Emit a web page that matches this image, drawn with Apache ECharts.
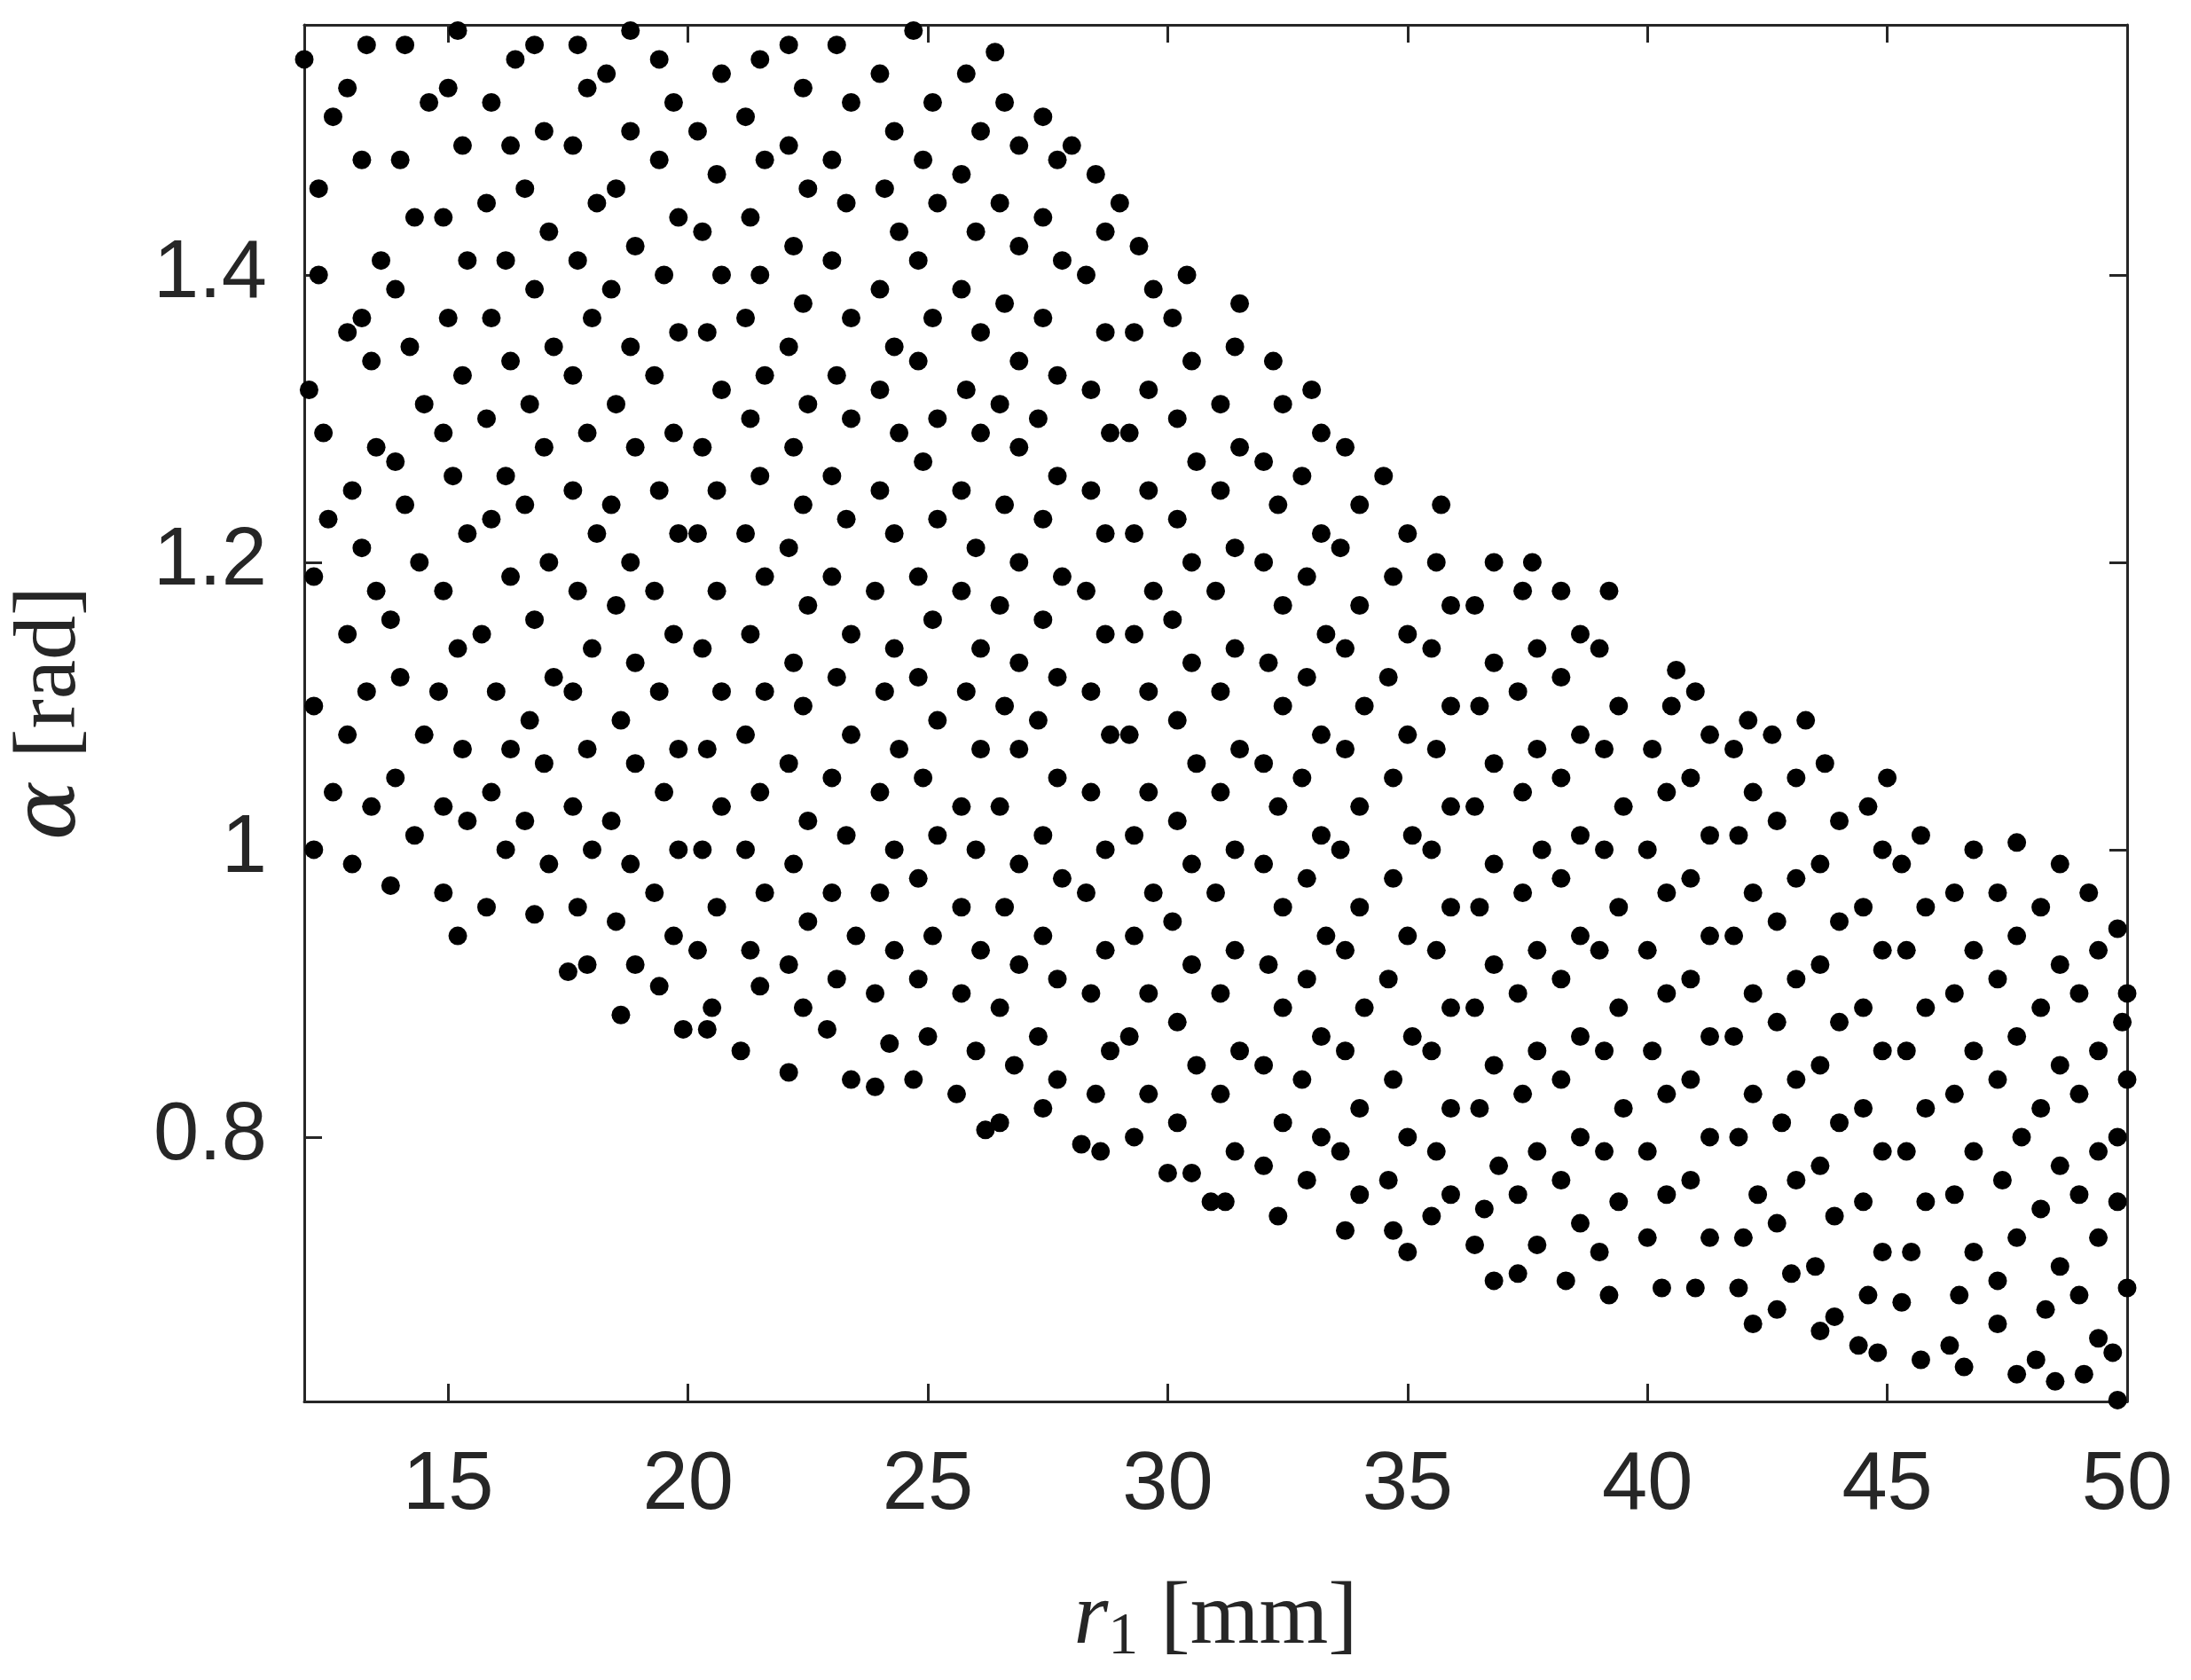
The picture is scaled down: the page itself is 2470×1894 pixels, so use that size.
<!DOCTYPE html>
<html><head><meta charset="utf-8">
<script src="https://cdn.jsdelivr.net/npm/echarts@6/dist/echarts.min.js"></script>
<style>html,body{margin:0;background:#fff}#c{width:2470px;height:1894px}</style>
</head><body><div id="c"></div>
<script>
const xTicks=[15,20,25,30,35,40,45,50];
const yTicks=[0.8,1.0,1.2,1.4];
const samples=[
[12.2,1.00],[12.6,1.04],[12.2,1.10],[12.9,1.15],[12.2,1.19],[12.5,1.23],[12.4,1.29],[12.1,1.32],[12.9,1.36],[12.3,1.40],[12.3,1.46],[12.6,1.51],[12.0,1.55],
[13.0,0.99],[13.4,1.03],[12.9,1.08],[13.3,1.11],[13.5,1.18],[13.2,1.21],[13.0,1.25],[13.5,1.28],[13.4,1.34],[13.2,1.37],[13.6,1.41],[13.2,1.48],[12.9,1.53],[13.3,1.56],
[13.8,0.975],[14.3,1.01],[13.9,1.05],[14.5,1.08],[14.0,1.12],[13.8,1.16],[14.4,1.20],[14.1,1.24],[13.9,1.27],[14.5,1.31],[14.2,1.35],[13.9,1.39],[14.3,1.44],[14.0,1.48],[14.6,1.52],[14.1,1.56],
[14.9,0.97],[15.2,0.94],[15.4,1.02],[14.9,1.03],[15.3,1.07],[14.8,1.11],[15.2,1.14],[14.9,1.18],[15.4,1.22],[15.1,1.26],[14.9,1.29],[15.3,1.33],[15.0,1.37],[15.4,1.41],[14.9,1.44],[15.3,1.49],[15.0,1.53],[15.2,1.57],
[15.8,0.96],[16.2,1.00],[15.9,1.04],[16.3,1.07],[16.0,1.11],[15.7,1.15],[16.3,1.19],[15.9,1.23],[16.2,1.26],[15.8,1.30],[16.3,1.34],[15.9,1.37],[16.2,1.41],[15.8,1.45],[16.3,1.49],[15.9,1.52],[16.4,1.55],
[16.8,0.955],[17.1,0.99],[16.6,1.02],[17.0,1.06],[16.7,1.09],[17.2,1.12],[16.8,1.16],[17.1,1.20],[16.6,1.24],[17.0,1.28],[16.7,1.31],[17.2,1.35],[16.8,1.39],[17.1,1.43],[16.6,1.46],[17.0,1.50],[16.8,1.56],
[17.5,0.915],[17.9,0.92],[17.7,0.96],[18.0,1.00],[17.6,1.03],[17.9,1.07],[17.6,1.11],[18.0,1.14],[17.7,1.18],[18.1,1.22],[17.6,1.25],[17.9,1.29],[17.6,1.33],[18.0,1.37],[17.7,1.41],[18.1,1.45],[17.6,1.49],[17.9,1.53],[17.7,1.56],
[18.6,0.885],[18.9,0.92],[18.5,0.95],[18.8,0.99],[18.4,1.02],[18.9,1.06],[18.6,1.09],[18.9,1.13],[18.5,1.17],[18.8,1.20],[18.4,1.24],[18.9,1.28],[18.5,1.31],[18.8,1.35],[18.4,1.39],[18.9,1.42],[18.5,1.46],[18.8,1.50],[18.3,1.54],[18.8,1.57],
[19.4,0.905],[19.9,0.875],[19.7,0.94],[19.3,0.97],[19.8,1.00],[19.5,1.04],[19.8,1.07],[19.4,1.11],[19.7,1.15],[19.3,1.18],[19.8,1.22],[19.4,1.25],[19.7,1.29],[19.3,1.33],[19.8,1.36],[19.5,1.40],[19.8,1.44],[19.4,1.48],[19.7,1.52],[19.4,1.55],
[20.4,0.875],[20.5,0.89],[20.2,0.93],[20.6,0.96],[20.3,1.00],[20.7,1.03],[20.4,1.07],[20.7,1.11],[20.3,1.14],[20.6,1.18],[20.2,1.22],[20.6,1.25],[20.3,1.28],[20.7,1.32],[20.4,1.36],[20.7,1.40],[20.3,1.43],[20.6,1.47],[20.2,1.50],[20.7,1.54],
[21.1,0.86],[21.5,0.905],[21.3,0.93],[21.6,0.97],[21.2,1.00],[21.5,1.04],[21.2,1.08],[21.6,1.11],[21.3,1.15],[21.6,1.19],[21.2,1.22],[21.5,1.26],[21.3,1.30],[21.6,1.33],[21.2,1.37],[21.5,1.40],[21.3,1.44],[21.6,1.48],[21.2,1.51],[21.5,1.55],
[22.1,0.845],[22.4,0.89],[22.1,0.92],[22.5,0.95],[22.2,0.99],[22.5,1.02],[22.1,1.06],[22.4,1.10],[22.2,1.13],[22.5,1.17],[22.1,1.21],[22.4,1.24],[22.2,1.28],[22.5,1.31],[22.1,1.35],[22.4,1.38],[22.2,1.42],[22.5,1.46],[22.1,1.49],[22.4,1.53],[22.1,1.56],
[22.9,0.875],[23.4,0.84],[23.1,0.91],[23.5,0.94],[23.0,0.97],[23.3,1.01],[23.0,1.05],[23.4,1.08],[23.1,1.12],[23.4,1.15],[23.0,1.19],[23.3,1.23],[23.0,1.26],[23.4,1.30],[23.1,1.33],[23.4,1.37],[23.0,1.41],[23.3,1.45],[23.0,1.48],[23.4,1.52],[23.1,1.56],
[23.9,0.835],[24.2,0.865],[23.9,0.90],[24.3,0.93],[24.0,0.97],[24.3,1.00],[24.0,1.04],[24.4,1.07],[24.1,1.11],[24.3,1.14],[23.9,1.18],[24.3,1.22],[24.0,1.25],[24.4,1.29],[24.0,1.32],[24.3,1.35],[24.0,1.39],[24.4,1.43],[24.1,1.46],[24.3,1.50],[24.0,1.54],
[24.7,0.84],[25.0,0.87],[24.8,0.91],[25.1,0.94],[24.8,0.98],[25.2,1.01],[24.9,1.05],[25.2,1.09],[24.8,1.12],[25.1,1.16],[24.8,1.19],[25.2,1.23],[24.9,1.27],[25.2,1.30],[24.8,1.34],[25.1,1.37],[24.8,1.41],[25.2,1.45],[24.9,1.48],[25.1,1.52],[24.7,1.57],
[25.6,0.83],[26.0,0.86],[25.7,0.90],[26.1,0.93],[25.7,0.96],[26.0,1.00],[25.7,1.03],[26.1,1.07],[25.8,1.11],[26.1,1.14],[25.7,1.18],[26.0,1.21],[25.7,1.25],[26.1,1.29],[25.8,1.32],[26.1,1.36],[25.7,1.39],[26.0,1.43],[25.7,1.47],[26.1,1.50],[25.8,1.54],
[26.2,0.805],[26.5,0.81],[26.8,0.85],[26.5,0.89],[26.9,0.92],[26.6,0.96],[26.9,0.99],[26.5,1.03],[26.9,1.07],[26.6,1.10],[26.9,1.13],[26.5,1.17],[26.9,1.20],[26.6,1.24],[26.9,1.28],[26.5,1.31],[26.9,1.34],[26.6,1.38],[26.9,1.42],[26.5,1.45],[26.9,1.49],[26.4,1.555],[26.6,1.52],
[27.4,0.82],[27.7,0.84],[27.3,0.87],[27.7,0.91],[27.4,0.94],[27.8,0.98],[27.4,1.01],[27.7,1.05],[27.3,1.09],[27.7,1.12],[27.4,1.16],[27.8,1.19],[27.4,1.23],[27.7,1.26],[27.3,1.30],[27.7,1.33],[27.4,1.37],[27.8,1.41],[27.4,1.44],[27.7,1.48],[27.4,1.51],
[28.2,0.795],[28.6,0.79],[28.5,0.83],[28.8,0.86],[28.4,0.90],[28.7,0.93],[28.3,0.97],[28.7,1.00],[28.4,1.04],[28.8,1.08],[28.4,1.11],[28.7,1.15],[28.3,1.18],[28.7,1.22],[28.4,1.25],[28.8,1.29],[28.4,1.32],[28.7,1.36],[28.3,1.40],[28.7,1.43],[28.5,1.47],[28.0,1.49],
[29.3,0.80],[29.6,0.83],[29.2,0.87],[29.6,0.90],[29.3,0.94],[29.7,0.97],[29.3,1.01],[29.6,1.04],[29.2,1.08],[29.6,1.11],[29.3,1.15],[29.7,1.18],[29.3,1.22],[29.6,1.25],[29.2,1.29],[29.6,1.32],[29.3,1.36],[29.7,1.39],[29.4,1.42],[29.0,1.45],
[30.0,0.775],[30.5,0.775],[30.2,0.81],[30.6,0.85],[30.2,0.88],[30.5,0.92],[30.1,0.95],[30.5,0.99],[30.2,1.02],[30.6,1.06],[30.2,1.09],[30.5,1.13],[30.1,1.16],[30.5,1.20],[30.2,1.23],[30.6,1.27],[30.2,1.30],[30.5,1.34],[30.1,1.37],[30.4,1.40],
[30.9,0.755],[31.2,0.755],[31.4,0.79],[31.1,0.83],[31.5,0.86],[31.1,0.90],[31.4,0.93],[31.0,0.97],[31.4,1.00],[31.1,1.04],[31.5,1.07],[31.1,1.11],[31.4,1.14],[31.0,1.18],[31.4,1.21],[31.1,1.25],[31.5,1.28],[31.1,1.31],[31.4,1.35],[31.5,1.38],
[32.3,0.745],[32.0,0.78],[32.4,0.81],[32.0,0.85],[32.4,0.89],[32.1,0.92],[32.4,0.96],[32.0,0.99],[32.3,1.03],[32.0,1.06],[32.4,1.10],[32.1,1.13],[32.4,1.17],[32.0,1.20],[32.3,1.24],[32.0,1.27],[32.4,1.31],[32.2,1.34],
[32.9,0.77],[33.2,0.80],[32.8,0.84],[33.2,0.87],[32.9,0.91],[33.3,0.94],[32.9,0.98],[33.2,1.01],[32.8,1.05],[33.2,1.08],[32.9,1.12],[33.3,1.15],[32.9,1.19],[33.2,1.22],[32.8,1.26],[33.2,1.29],[33.0,1.32],
[33.7,0.735],[34.0,0.76],[33.6,0.79],[34.0,0.82],[33.7,0.86],[34.1,0.89],[33.7,0.93],[34.0,0.96],[33.6,1.00],[34.0,1.03],[33.7,1.07],[34.1,1.10],[33.7,1.14],[34.0,1.17],[33.6,1.21],[34.0,1.24],[33.7,1.28],
[34.7,0.735],[35.0,0.72],[34.6,0.77],[35.0,0.80],[34.7,0.84],[35.1,0.87],[34.6,0.91],[35.0,0.94],[34.7,0.98],[35.1,1.01],[34.7,1.05],[35.0,1.08],[34.6,1.12],[35.0,1.15],[34.7,1.19],[35.0,1.22],[34.5,1.26],
[35.5,0.745],[35.9,0.76],[35.6,0.79],[35.9,0.82],[35.5,0.86],[35.9,0.89],[35.6,0.93],[35.9,0.96],[35.5,1.00],[35.9,1.03],[35.6,1.07],[35.9,1.10],[35.5,1.14],[35.9,1.17],[35.6,1.20],[35.7,1.24],
[36.4,0.725],[36.8,0.70],[36.6,0.75],[36.9,0.78],[36.5,0.82],[36.8,0.85],[36.4,0.89],[36.8,0.92],[36.5,0.96],[36.8,0.99],[36.4,1.03],[36.8,1.06],[36.5,1.10],[36.8,1.13],[36.4,1.17],[36.8,1.20],
[37.3,0.705],[37.7,0.725],[37.3,0.76],[37.7,0.79],[37.4,0.83],[37.7,0.86],[37.3,0.90],[37.7,0.93],[37.4,0.97],[37.8,1.00],[37.4,1.04],[37.7,1.07],[37.3,1.11],[37.7,1.14],[37.4,1.18],[37.6,1.20],
[38.3,0.70],[38.6,0.74],[38.2,0.77],[38.6,0.80],[38.2,0.84],[38.6,0.87],[38.2,0.91],[38.6,0.94],[38.2,0.98],[38.6,1.01],[38.2,1.05],[38.6,1.08],[38.2,1.12],[38.6,1.15],[38.2,1.18],
[39.2,0.69],[39.0,0.72],[39.4,0.755],[39.1,0.79],[39.5,0.82],[39.1,0.86],[39.4,0.89],[39.0,0.93],[39.4,0.96],[39.1,1.00],[39.5,1.03],[39.1,1.07],[39.4,1.10],[39.0,1.14],[39.2,1.18],
[40.3,0.695],[40.0,0.73],[40.4,0.76],[40.0,0.79],[40.4,0.83],[40.1,0.86],[40.4,0.90],[40.0,0.93],[40.4,0.97],[40.0,1.00],[40.4,1.04],[40.1,1.07],[40.5,1.10],[40.6,1.125],
[41.0,0.695],[41.3,0.73],[40.9,0.77],[41.3,0.80],[40.9,0.84],[41.3,0.87],[40.9,0.91],[41.3,0.94],[40.9,0.98],[41.3,1.01],[40.9,1.05],[41.3,1.08],[41.0,1.11],
[41.9,0.695],[42.2,0.67],[42.0,0.73],[42.3,0.76],[41.9,0.80],[42.2,0.83],[41.8,0.87],[42.2,0.90],[41.8,0.94],[42.2,0.97],[41.9,1.01],[42.2,1.04],[41.8,1.07],[42.1,1.09],
[42.7,0.68],[43.0,0.705],[42.7,0.74],[43.1,0.77],[42.8,0.81],[43.1,0.84],[42.7,0.88],[43.1,0.91],[42.7,0.95],[43.1,0.98],[42.7,1.02],[43.1,1.05],[42.6,1.08],[43.3,1.09],
[43.6,0.665],[43.9,0.675],[43.5,0.71],[43.9,0.745],[43.6,0.78],[44.0,0.81],[43.6,0.85],[44.0,0.88],[43.6,0.92],[44.0,0.95],[43.6,0.99],[44.0,1.02],[43.7,1.06],
[44.4,0.655],[44.8,0.65],[44.6,0.69],[44.9,0.72],[44.5,0.755],[44.9,0.79],[44.5,0.82],[44.9,0.86],[44.5,0.89],[44.9,0.93],[44.5,0.96],[44.9,1.00],[44.6,1.03],[45.0,1.05],
[45.3,0.685],[45.7,0.645],[45.5,0.72],[45.8,0.755],[45.4,0.79],[45.8,0.82],[45.4,0.86],[45.8,0.89],[45.4,0.93],[45.8,0.96],[45.3,0.99],[45.7,1.01],
[46.3,0.655],[46.6,0.64],[46.5,0.69],[46.8,0.72],[46.4,0.76],[46.8,0.79],[46.4,0.83],[46.8,0.86],[46.4,0.90],[46.8,0.93],[46.4,0.97],[46.8,1.00],
[47.3,0.67],[47.7,0.635],[47.3,0.70],[47.7,0.73],[47.4,0.77],[47.8,0.80],[47.3,0.84],[47.7,0.87],[47.3,0.91],[47.7,0.94],[47.3,0.97],[47.7,1.005],
[48.1,0.645],[48.5,0.63],[48.3,0.68],[48.6,0.71],[48.2,0.75],[48.6,0.78],[48.2,0.82],[48.6,0.85],[48.2,0.89],[48.6,0.92],[48.2,0.96],[48.6,0.99],
[49.1,0.635],[49.4,0.66],[49.0,0.69],[49.4,0.73],[49.0,0.76],[49.4,0.79],[49.0,0.83],[49.4,0.86],[49.0,0.90],[49.4,0.93],[49.2,0.97],
[49.8,0.617],[50.0,0.695],[49.8,0.755],[50.0,0.84],[49.8,0.80],[50.0,0.90],[49.8,0.945],[49.9,0.88],[49.7,0.65]
];
const c=echarts.init(document.getElementById('c'));
const lab={fontFamily:'Liberation Sans, Arial',fontSize:92,color:'#262626'};
const base={axisLine:{show:true,lineStyle:{color:'#262626',width:3}},splitLine:{show:false}};
c.setOption({
 animation:false,
 grid:{left:330,right:72,top:28,bottom:314,show:false},
 xAxis:[
  Object.assign({type:'value',min:12,max:50,position:'bottom',
   axisTick:{inside:true,length:20,customValues:xTicks,lineStyle:{color:'#262626',width:3}},
   axisLabel:Object.assign({customValues:xTicks,margin:50},lab),
   name:'{i|r}{s|1} [mm]',nameLocation:'middle',nameGap:192,
   nameTextStyle:{fontFamily:'Liberation Serif, DejaVu Serif',fontSize:100,color:'#262626',
     rich:{i:{fontFamily:'Liberation Serif',fontStyle:'italic',fontSize:100,color:'#262626'},
           s:{fontFamily:'Liberation Serif',fontSize:68,color:'#262626',verticalAlign:'bottom',padding:[40,0,0,0]}}}},base),
  Object.assign({type:'value',min:12,max:50,position:'top',
   axisTick:{inside:true,length:20,customValues:xTicks,lineStyle:{color:'#262626',width:3}},
   axisLabel:{show:false}},base)
 ],
 yAxis:[
  Object.assign({type:'value',min:0.616,max:1.574,position:'left',
   axisTick:{inside:true,length:20,customValues:yTicks,lineStyle:{color:'#262626',width:3}},
   axisLabel:Object.assign({customValues:yTicks,margin:42,formatter:v=>String(+v.toFixed(1))},lab),
   name:'{i|α} [rad]',nameLocation:'middle',nameGap:235,
   nameTextStyle:{fontFamily:'Liberation Serif, DejaVu Serif',fontSize:100,color:'#262626',
     rich:{i:{fontFamily:'DejaVu Serif',fontStyle:'italic',fontSize:100,color:'#262626'}}}},base),
  Object.assign({type:'value',min:0.616,max:1.574,position:'right',
   axisTick:{inside:true,length:20,customValues:yTicks,lineStyle:{color:'#262626',width:3}},
   axisLabel:{show:false}},base)
 ],
 series:[{type:'scatter',data:samples,symbolSize:21,itemStyle:{color:'#000',opacity:1},clip:false}]
});
</script></body></html>
